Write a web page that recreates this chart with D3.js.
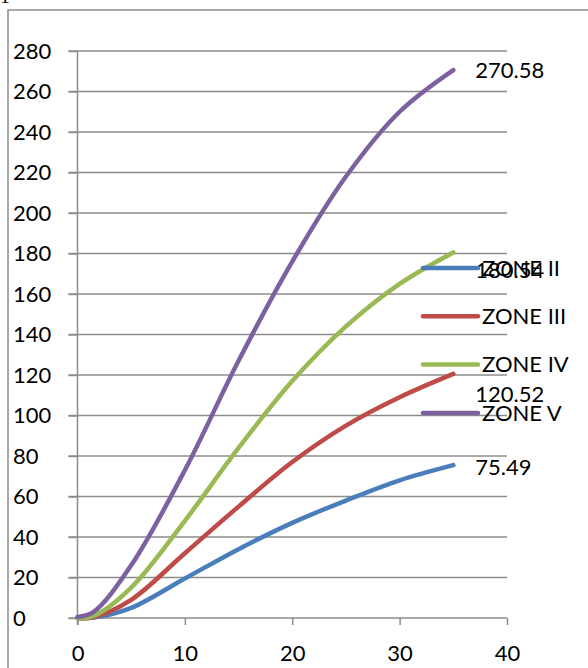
<!DOCTYPE html>
<html>
<head>
<meta charset="utf-8">
<script src="https://cdn.jsdelivr.net/npm/d3@7"></script>
<style>
  html, body { margin: 0; padding: 0; background: #fff; }
  svg { display: block; }
  text { font-family: Lato, "Open Sans", sans-serif; fill: #000; }
</style>
</head>
<body>
<svg id="chart" width="588" height="668"></svg>
<script>
// Elapsed time (x) and cumulative values per zone
const times   = [0, 1.5, 5, 10, 15, 20, 25, 30, 35];
const zoneII  = [0, 0.2, 5, 19.5, 34, 47, 58, 68, 75.49];
const zoneIII = [0, 0.5, 9, 32, 55, 77, 95, 109, 120.52];
const zoneIV  = [0, 1, 15, 48, 84, 117, 144, 165, 180.54];
const zoneV   = [0.5, 3, 26, 73, 127, 176, 218, 250, 270.58];

const seriesNames  = ["ZONE II", "ZONE III", "ZONE IV", "ZONE V"];
const seriesColors = ["#4a7ebb", "#be4b48", "#98b954", "#7d60a0"];
const seriesValues = [zoneII, zoneIII, zoneIV, zoneV];
// vertical nudge of each end-of-line value label
const labelNudge   = [2, 20, 18, 0];

const xTicks = [0, 10, 20, 30, 40];
const yTicks = d3.range(0, 281, 20);

const svg = d3.select("#chart");

// outer chart frame
svg.append("rect")
  .attr("x", 8).attr("y", 10)
  .attr("width", 600).attr("height", 680)
  .attr("fill", "none").attr("stroke", "#8c8c8c").attr("stroke-width", 1.5);

// fragment of the text line above the chart
svg.append("text")
  .attr("x", 0).attr("y", 2.5)
  .style("font-family", "'Liberation Serif', serif")
  .style("font-size", "20px")
  .text("1");

const x = d3.scaleLinear().domain([0, 40]).range([77.5, 507]);
const y = d3.scaleLinear().domain([0, 280]).range([618, 51]);

const gridColor = "#8c8c8c";

// horizontal gridlines
svg.append("g")
  .selectAll("line")
  .data(yTicks)
  .join("line")
  .attr("x1", x(0) - 9).attr("x2", x(40))
  .attr("y1", d => y(d)).attr("y2", d => y(d))
  .attr("stroke", gridColor).attr("stroke-width", 1.5);

// y axis, labels flush left
const yAxis = svg.append("g")
  .attr("transform", `translate(${x(0)},0)`)
  .call(d3.axisLeft(y).tickValues(yTicks).tickSize(9));
yAxis.select(".domain").attr("stroke", gridColor).attr("stroke-width", 1.5)
  .attr("d", `M0,${y(280)}V${y(0) + 7}`);
yAxis.selectAll(".tick line").attr("stroke", gridColor).attr("stroke-width", 1.5);
yAxis.selectAll(".tick text")
  .attr("x", 13 - x(0))
  .attr("text-anchor", "start")
  .style("font-size", "22px").style("font-family", "Lato, sans-serif")
  .attr("fill", "#000");

// x axis
const xAxis = svg.append("g")
  .attr("transform", `translate(0,${y(0)})`)
  .call(d3.axisBottom(x).tickValues(xTicks).tickSize(7).tickPadding(20));
xAxis.select(".domain").remove();
xAxis.selectAll(".tick line").attr("stroke", gridColor).attr("stroke-width", 1.5);
xAxis.selectAll(".tick text")
  .style("font-size", "22px").style("font-family", "Lato, sans-serif")
  .attr("fill", "#000");

// series lines
const line = d3.line()
  .x((d, i) => x(times[i]))
  .y(d => y(d))
  .curve(d3.curveCatmullRom.alpha(0.5));

svg.append("g")
  .selectAll("path")
  .data(seriesValues)
  .join("path")
  .attr("d", d => line(d))
  .attr("fill", "none")
  .attr("stroke", (d, i) => seriesColors[i])
  .attr("stroke-width", 4.5)
  .attr("stroke-linecap", "round")
  .attr("stroke-linejoin", "round");

// value labels at the last point
svg.append("g")
  .selectAll("text")
  .data(seriesValues)
  .join("text")
  .attr("x", d => x(times[times.length - 1]) + 22)
  .attr("y", (d, i) => y(d[d.length - 1]) + labelNudge[i])
  .attr("dy", "0.35em")
  .style("font-size", "22px")
  .text(d => d[d.length - 1].toFixed(2));

// legend
const legend = svg.append("g")
  .selectAll("g")
  .data(seriesNames)
  .join("g")
  .attr("transform", (d, i) => `translate(423,${268 + i * 48.3})`);
legend.append("line")
  .attr("x1", 0).attr("x2", 55)
  .attr("stroke", (d, i) => seriesColors[i])
  .attr("stroke-width", 4.5)
  .attr("stroke-linecap", "round");
legend.append("text")
  .attr("x", 59).attr("dy", "0.35em")
  .style("font-size", "22px")
  .text(d => d);
</script>
</body>
</html>
